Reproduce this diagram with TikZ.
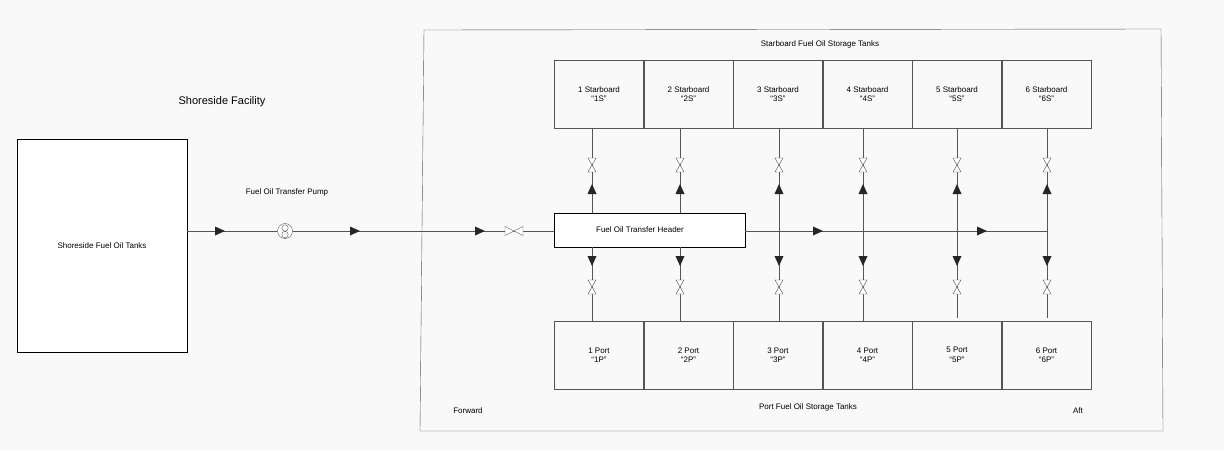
\documentclass[tikz,border=0pt]{standalone}
\usepackage{fontspec}
\setmainfont{Liberation Sans}
\usetikzlibrary{positioning}
\definecolor{bgcol}{HTML}{F9F9F9}
\definecolor{linecol}{HTML}{555555}
\tikzset{
	tank/.style={draw=linecol, fill=bgcol, minimum width=89pt, minimum height=68pt, inner sep=0pt, align=center, font=\fontsize{8}{9.5}\selectfont},
	lbl/.style={font=\fontsize{8}{9}\selectfont},
	pipe/.style={draw=linecol, line width=0.6pt},
	flow/.pic={\fill[black!85] (-5,-4.5) -- (5,0) -- (-5,4.5) -- cycle;},
	valve/.pic={\draw[linecol, fill=white, line width=0.4pt] (-9,-4.5) -- (9,4.5) -- (9,-4.5) -- (-9,4.5) -- cycle;},
	vvalve/.pic={\draw[linecol, fill=white, line width=0.4pt] (-4,-7) -- (4,-7) -- (-4,7) -- (4,7) -- cycle;}
}

\begin{document}
\begin{tikzpicture}[x=1pt, y=-1pt]
		\useasboundingbox (0,0) rectangle (1224,450);
		\fill[bgcol] (0,0) rectangle (1224,450);
		% shore side
		\node[draw=black, fill=white, minimum width=170pt, minimum height=213pt, lbl] (shore) at (102,245.5) {Shoreside Fuel Oil Tanks};
		\node[font=\fontsize{11}{13}\selectfont] (shorelbl) at (222,102) {Shoreside Facility};
		% ship
		\draw[linecol] (424,30) -- (1161,29) -- (1163,431) -- (420,431) -- cycle;
		\node[lbl] (stbdlbl) at (820,44) {Starboard Fuel Oil Storage Tanks};
		\node[lbl] (portlbl) at (808,407) {Port Fuel Oil Storage Tanks};
		\node[lbl] (fwd) at (468,411) {Forward};
		\node[lbl] (aft) at (1078,411) {Aft};
		% tanks
		\foreach \i in {1,...,6}{
			\node[tank] (s\i) at (509.5+89.5*\i,94) {\i\ Starboard\\``\i S''};
			\node[tank] (p\i) at (509.5+89.5*\i,355) {\i\ Port\\``\i P''};
		}
		% header and pump
		\node[draw=black, fill=white, minimum width=191pt, minimum height=34pt, inner sep=0pt] (hdr) at (649.5,230) {};
		\node[lbl] (hdrlbl) at (640,230) {Fuel Oil Transfer Header};
		\node[draw=linecol, fill=white, circle, minimum size=15pt, inner sep=0pt] (pump) at (285,231) {};
		\draw[linecol, line width=0.4pt] (285,228) circle (3.2pt) (285,234.5) circle (3.2pt);
		\node[lbl] (pumplbl) at (287,192) {Fuel Oil Transfer Pump};
		\coordinate (endpt) at (1047,231);
		% main line
		\draw[pipe] (shore.east |- pump) -- (pump);
		\draw[pipe] (pump) -- (hdr.west |- pump);
		\draw[pipe] (hdr.east |- endpt) -- (endpt);
		\foreach \x in {220,355,480,818,982} \pic at (\x,231) {flow};
		\pic at (514,231) {valve};
		% branch lines
		\foreach \i/\x in {1/592,2/680}{
			\draw[pipe] (\x,128) -- (\x,213);
			\draw[pipe] (\x,247) -- (\x,321);
		}
		\foreach \i/\x/\b in {3/779/321,4/863/321,5/957/318,6/1047/318}
			\draw[pipe] (\x,128) -- (\x,\b);
		\foreach \x in {592,680,779,863,957,1047}{
			\pic at (\x,165) {vvalve};
			\pic[rotate=90] at (\x,189) {flow};
			\pic[rotate=-90] at (\x,261) {flow};
			\pic at (\x,287) {vvalve};
		}
\end{tikzpicture}
\end{document}
